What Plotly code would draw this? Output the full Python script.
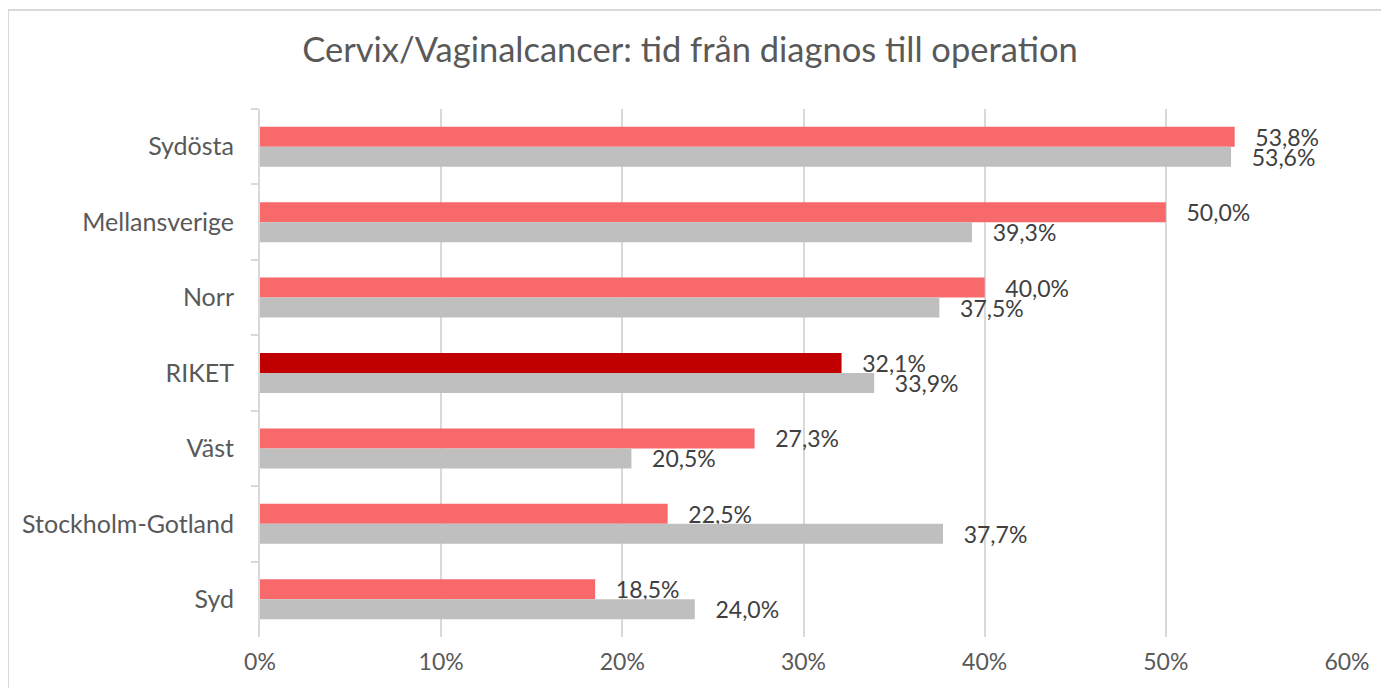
import plotly.graph_objects as go

categories = ["Sydösta", "Mellansverige", "Norr", "RIKET", "Väst", "Stockholm-Gotland", "Syd"]
series_red = [53.8, 50.0, 40.0, 32.1, 27.3, 22.5, 18.5]
series_gray = [53.6, 39.3, 37.5, 33.9, 20.5, 37.7, 24.0]
x_ticks = [0, 10, 20, 30, 40, 50, 60]
x_ticklabels = ["0%", "10%", "20%", "30%", "40%", "50%", "60%"]
title_text = "Cervix/Vaginalcancer: tid från diagnos till operation"

RED = "#F8696B"
DARK_RED = "#C00000"
GRAY = "#BFBFBF"
FONT = "Lato, Carlito, Calibri, sans-serif"

# page body has an 8px margin; figure coordinates are viewport minus 8
OFF = 8
W, H = 1389, 688
PL, PR, PT, PB = 260 - OFF, 1347 - OFF, 109 - OFF, 637 - OFF
PW, PH = PR - PL, PB - PT


def fmt(v):
    return "\u00a0\u00a0\u00a0" + f"{v:.1f}%".replace(".", ",")


red_colors = [DARK_RED if c == "RIKET" else RED for c in categories]

fig = go.Figure()
fig.add_trace(go.Bar(
    y=categories, x=series_red, orientation="h",
    marker=dict(color=red_colors, line=dict(width=0)),
    text=[fmt(v) for v in series_red], textposition="outside", constraintext="none",
    textfont=dict(family=FONT, size=23, color="#404040"),
    cliponaxis=False, showlegend=False, hoverinfo="skip",
))
fig.add_trace(go.Bar(
    y=categories, x=series_gray, orientation="h",
    marker=dict(color=GRAY, line=dict(width=0)),
    text=[fmt(v) for v in series_gray], textposition="outside", constraintext="none",
    textfont=dict(family=FONT, size=23, color="#404040"),
    cliponaxis=False, showlegend=False, hoverinfo="skip",
))

fig.update_layout(
    width=W, height=H,
    margin=dict(l=PL, r=W - PR, t=PT, b=H - PB),
    paper_bgcolor="white", plot_bgcolor="white",
    barmode="group", bargap=0.47, bargroupgap=0,
    font=dict(family=FONT, color="#595959", size=25),
    title=dict(text=title_text, x=(690 - OFF) / W, xanchor="center",
               y=1 - (50 - OFF) / H, yanchor="middle", yref="container",
               font=dict(family=FONT, size=34.5, color="#595959")),
    uniformtext=dict(mode=False),
    xaxis=dict(range=[0, 60], tickvals=x_ticks, ticktext=x_ticklabels,
               showgrid=True, gridcolor="#D9D9D9", gridwidth=2,
               zeroline=False, showline=False, ticks="",
               ticklabelstandoff=9,
               tickfont=dict(family=FONT, size=23, color="#595959"),
               fixedrange=True),
    yaxis=dict(autorange="reversed", showline=True, linecolor="#D9D9D9", linewidth=2,
               ticks="outside", tickson="boundaries", ticklen=7, tickcolor="#D9D9D9",
               tickwidth=2, showgrid=False, ticklabelstandoff=19,
               tickfont=dict(family=FONT, size=25, color="#595959"),
               fixedrange=True),
    shapes=[dict(type="rect", xref="paper", yref="paper",
                 x0=(0 - PL) / PW, x1=(1386 - OFF - PL) / PW,
                 y0=(PB - 720) / PH, y1=(PB - (10 - OFF)) / PH,
                 line=dict(color="#D9D9D9", width=2), fillcolor="rgba(0,0,0,0)",
                 layer="below")],
)

fig.write_html("out.html")
